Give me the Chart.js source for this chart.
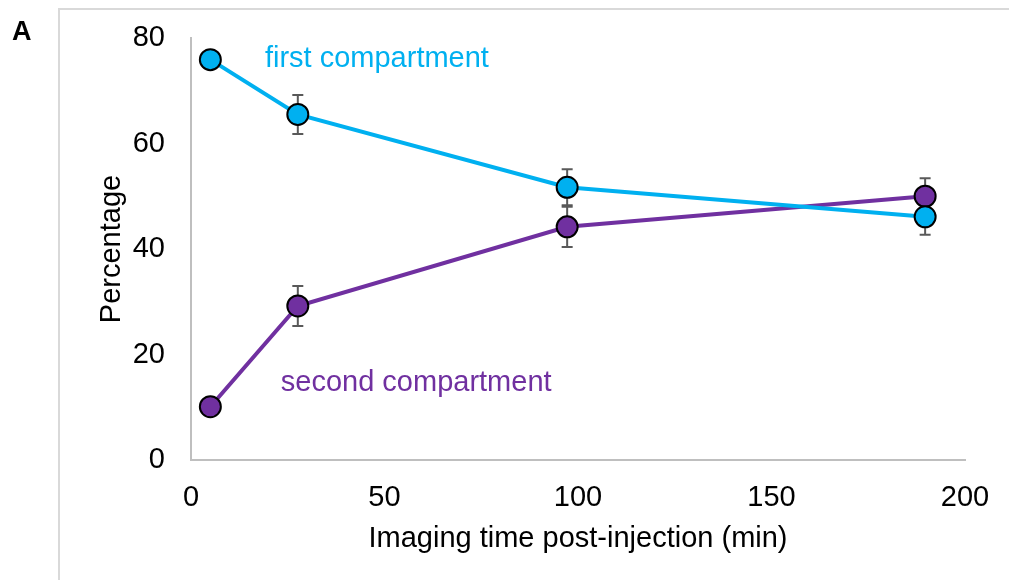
<!DOCTYPE html>
<html>
<head>
<meta charset="utf-8">
<script src="https://cdn.jsdelivr.net/npm/chart.js@4"></script>
<style>
  html, body { margin: 0; padding: 0; background: #fff; }
  #wrap { width: 1009px; height: 580px; position: relative; }
</style>
</head>
<body>
<div id="wrap"><canvas id="chart"></canvas></div>
<script>
// imaging times (min) and percentages
const times = [5, 27.6, 97.2, 189.7];
const firstComp = [75.9, 65.5, 51.7, 46.1];
const firstErr = [1.5, 3.7, 3.4, 3.4];
const secondComp = [10.1, 29.2, 44.2, 50.0];
const secondErr = [1.0, 3.8, 3.8, 3.4];
const yTicks = [0, 20, 40, 60, 80];
const xTicks = [0, 50, 100, 150, 200];

const BLUE = '#00b0f0';
const PURPLE = '#7030a0';
const FONT = '"Liberation Sans", Arial, sans-serif';
const SIZE = 29;

const toPoints = (xs, ys) => xs.map((x, i) => ({ x: x, y: ys[i] }));

// panel frame, "A" tag, error bars and in-plot series labels
const extras = {
  id: 'extras',
  beforeDraw(chart) {
    const c = chart.ctx;
    c.save();
    c.strokeStyle = '#d9d9d9';
    c.lineWidth = 2;
    c.beginPath();
    c.moveTo(59, 580);
    c.lineTo(59, 9);
    c.lineTo(1009, 9);
    c.stroke();
    c.fillStyle = '#000';
    c.font = 'bold 27px ' + FONT;
    c.textBaseline = 'middle';
    c.fillText('A', 12, 33);
    c.restore();
  },
  beforeDatasetsDraw(chart) {
    const c = chart.ctx;
    const xs = chart.scales.x, ys = chart.scales.y;
    c.save();
    c.strokeStyle = '#595959';
    c.lineWidth = 2;
    [[firstComp, firstErr], [secondComp, secondErr]].forEach(([vals, errs]) => {
      vals.forEach((v, i) => {
        const px = xs.getPixelForValue(times[i]);
        const top = ys.getPixelForValue(v + errs[i]);
        const bot = ys.getPixelForValue(v - errs[i]);
        c.beginPath();
        c.moveTo(px, top); c.lineTo(px, bot);
        c.moveTo(px - 5.5, top); c.lineTo(px + 5.5, top);
        c.moveTo(px - 5.5, bot); c.lineTo(px + 5.5, bot);
        c.stroke();
      });
    });
    c.restore();
  },
  afterDatasetsDraw(chart) {
    const c = chart.ctx;
    const xs = chart.scales.x, ys = chart.scales.y;
    c.save();
    c.font = SIZE + 'px ' + FONT;
    c.textBaseline = 'middle';
    c.fillStyle = BLUE;
    c.fillText('first compartment', xs.getPixelForValue(19.1), ys.getPixelForValue(76.0));
    c.fillStyle = PURPLE;
    c.fillText('second compartment', xs.getPixelForValue(23.2), ys.getPixelForValue(14.6));
    c.restore();
  }
};

new Chart(document.getElementById('chart'), {
  type: 'scatter',
  data: {
    datasets: [
      {
        label: 'first compartment',
        data: toPoints(times, firstComp),
        showLine: true,
        borderColor: BLUE,
        borderWidth: 4,
        pointBackgroundColor: BLUE,
        pointBorderColor: '#000',
        pointBorderWidth: 2,
        pointRadius: 10.5,
        pointHoverRadius: 10.5
      },
      {
        label: 'second compartment',
        data: toPoints(times, secondComp),
        showLine: true,
        borderColor: PURPLE,
        borderWidth: 4,
        pointBackgroundColor: PURPLE,
        pointBorderColor: '#000',
        pointBorderWidth: 2,
        pointRadius: 10.5,
        pointHoverRadius: 10.5
      }
    ]
  },
  options: {
    responsive: true,
    maintainAspectRatio: false,
    animation: false,
    layout: { autoPadding: false, padding: { left: 0, right: 44, top: 38, bottom: 0 } },
    plugins: {
      legend: { display: false },
      tooltip: { enabled: false }
    },
    scales: {
      x: {
        type: 'linear',
        min: 0,
        max: 200,
        afterBuildTicks: s => { s.ticks = xTicks.map(v => ({ value: v })); },
        afterFit: s => { s.height = 120; s.paddingLeft = 0; s.paddingRight = 0; },
        grid: { display: false, drawTicks: false },
        border: { display: true, color: '#bfbfbf', width: 2 },
        ticks: { color: '#000', padding: 21, font: { family: FONT, size: SIZE } },
        title: {
          display: true,
          text: 'Imaging time post-injection (min)',
          color: '#000',
          font: { family: FONT, size: SIZE },
          padding: { top: 0, bottom: 23.6 }
        }
      },
      y: {
        min: 0,
        max: 80,
        afterBuildTicks: s => { s.ticks = yTicks.map(v => ({ value: v })); },
        afterFit: s => { s.width = 191; s.paddingTop = 0; s.paddingBottom = 0; },
        grid: { display: false, drawTicks: false },
        border: { display: true, color: '#bfbfbf', width: 2 },
        ticks: { color: '#000', padding: 26, font: { family: FONT, size: SIZE } },
        title: {
          display: true,
          text: 'Percentage',
          color: '#000',
          font: { family: FONT, size: SIZE },
          padding: { top: 95, bottom: 0 }
        }
      }
    }
  },
  plugins: [extras]
});
</script>
</body>
</html>
